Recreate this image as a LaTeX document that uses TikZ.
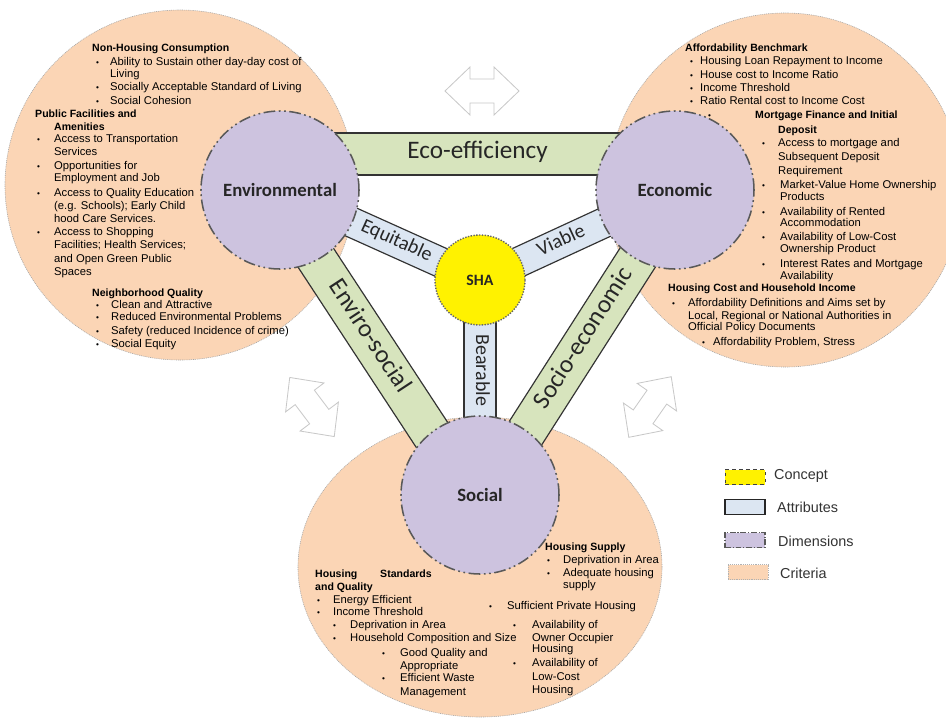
\documentclass[tikz,border=0pt]{standalone}
\usepackage{fontspec}
\setmainfont{Liberation Sans}
\newfontfamily\calibrifont{Carlito}
\usetikzlibrary{calc,shapes.geometric}
\definecolor{peach}{HTML}{FBD5B5}
\definecolor{lav}{HTML}{CDC3DF}
\definecolor{lgreen}{HTML}{D7E4BD}
\definecolor{lblue}{HTML}{DCE6F2}
\definecolor{dimborder}{HTML}{595959}
\definecolor{arrowgray}{HTML}{C8C8C8}
\newcounter{tl}
\newcommand\critfont{\fontsize{9.6}{11}\selectfont}
\newcommand\critheadfont{\fontsize{9}{11}\selectfont\bfseries}
\newcommand\Tx[3]{\stepcounter{tl}\node[crit] (tx\arabic{tl}) at (#1,{#2+3.5}) {#3};}
\newcommand\Th[3]{\stepcounter{tl}\node[crith] (tx\arabic{tl}) at (#1,{#2+3.5}) {#3};}
\newcommand\Tb[4]{\stepcounter{tl}\node[critbul] (tx\arabic{tl}) at (#1,{#3+3.5}) {\textbullet};\Tx{#2}{#3}{#4}}
\newcommand\band[7]{%
  \draw[#4] ($(#1)!#3!90:(#2)$) -- ($(#2)!#3!-90:(#1)$) -- ($(#2)!#3!90:(#1)$) -- ($(#1)!#3!-90:(#2)$) -- cycle;
  \path (#1) -- (#2) node[#6] (#5) {#7};
}
\newcommand\hollowarrow[3]{%
  \coordinate (#1) at #2;
  \draw[hollow, shift={#2}, rotate=#3] (-37,0) -- (-12,-24) -- (-12,-12) -- (12,-12) -- (12,-24) -- (37,0) -- (12,24) -- (12,12) -- (-12,12) -- (-12,24) -- cycle;
}
\begin{document}
\begin{tikzpicture}[x=0.03cm,y=-0.03cm,
  crit/.style={anchor=base west, inner sep=0pt, text height=6.6pt, text depth=1.6pt, font=\critfont},
  crith/.style={anchor=base west, inner sep=0pt, text height=6.6pt, text depth=1.6pt, font=\critheadfont},
  critbul/.style={anchor=base west, inner sep=0pt, text height=4pt, text depth=0pt, font=\fontsize{7}{7}\selectfont},
  criteria/.style={fill=peach, draw=black!35, line width=0.5pt, dash pattern=on 0.8pt off 0.8pt, inner sep=0pt},
  dimdash/.style={dash pattern=on 10pt off 3pt on 1.5pt off 3pt on 1.5pt off 3pt},
  dimension/.style={circle, fill=lav, draw=dimborder, line width=1.3pt, dimdash, minimum size=4.74cm, inner sep=0pt,
     font=\calibrifont\bfseries\fontsize{16}{16}\selectfont, text=black!85},
  concept/.style={circle, fill=yellow, draw=black!60, line width=1.2pt, dash pattern=on 1.2pt off 1.2pt, minimum size=2.7cm, inner sep=0pt,
     font=\calibrifont\bfseries\fontsize{13.5}{13.5}\selectfont, text=black!85},
  ecoband/.style={fill=lgreen, draw=black!80, line width=1pt},
  attrband/.style={fill=lblue, draw=black!80, line width=1pt},
  bandfont/.style={font=\calibrifont\fontsize{21.5}{21.5}\selectfont, text=black!85, inner sep=0pt, text height=11pt, text depth=3pt},
  attrfont/.style={font=\calibrifont\fontsize{17}{17}\selectfont, text=black!85, inner sep=0pt, text height=9pt, text depth=2.5pt},
  hollow/.style={fill=white, draw=arrowgray, line width=0.7pt, line join=miter},
  legbox/.style={rectangle, minimum width=1.2cm, minimum height=0.45cm, inner sep=0pt},
  legtext/.style={anchor=west, inner sep=0pt, font=\fontsize{12.3}{14}\selectfont, text=black!80}
]
\clip (0,0) rectangle (946,721);
\fill[white] (0,0) rectangle (946,721);

% criteria
\node[criteria, circle, minimum size=10.5cm] (critEnv) at (180,185) {};
\node[criteria, circle, minimum size=10.62cm] (critEcon) at (785,190) {};
\node[criteria, ellipse, minimum width=10.92cm, minimum height=9cm] (critSoc) at (480,567) {};

% hollow double arrows
\hollowarrow{arrTop}{(482,91)}{0}
\hollowarrow{arrLeft}{(312,407)}{-53}
\hollowarrow{arrRight}{(650,407)}{55}

% centres
\coordinate (cEnv) at (280,190);
\coordinate (cEcon) at (675,190);
\coordinate (cSoc) at (480,495);
\coordinate (cSha) at (480,280);
\coordinate (ee1) at (280,154); \coordinate (ee2) at (675,154);
\coordinate (es1) at (274,194); \coordinate (es2) at (474,499);
\coordinate (se1) at (484,498); \coordinate (se2) at (679,193);

% bands
\band{ee1}{ee2}{0.63cm}{ecoband}{lEco}{midway, bandfont}{Eco-efficiency}
\band{es1}{es2}{0.6cm}{ecoband}{lEnvSoc}{pos=0.47, sloped, bandfont}{Enviro-social}
\band{se1}{se2}{0.6cm}{ecoband}{lSocEco}{pos=0.52, sloped, bandfont}{Socio-economic}
\band{cEnv}{cSha}{0.45cm}{attrband}{lEq}{pos=0.58, sloped, attrfont}{Equitable}
\band{cSha}{cEcon}{0.45cm}{attrband}{lVi}{pos=0.42, sloped, attrfont}{Viable}
\band{cSha}{cSoc}{0.48cm}{attrband}{lBe}{pos=0.42, rotate=-90, attrfont}{Bearable}

% dimensions
\node[dimension] (env) at (cEnv) {Environmental};
\node[dimension] (econ) at (cEcon) {Economic};
\node[dimension] (soc) at (cSoc) {Social};
\node[concept] (sha) at (cSha) {SHA};

% left criteria text
\Th{92}{48}{Non-Housing Consumption}
\Tb{96}{110}{62}{Ability to Sustain other day-day cost of}
\Tx{110}{74}{Living}
\Tb{96}{110}{87}{Socially Acceptable Standard of Living}
\Tb{96}{110}{101}{Social Cohesion}
\Th{35}{114}{Public Facilities and}
\Th{54}{127}{Amenities}
\Tb{37}{54}{139}{Access to Transportation}
\Tx{54}{152}{Services}
\Tb{37}{54}{166}{Opportunities for}
\Tx{54}{178}{Employment and Job}
\Tb{37}{54}{193}{Access to Quality Education}
\Tx{54}{206}{(e.g. Schools); Early Child}
\Tx{54}{219}{hood Care Services.}
\Tb{37}{54}{232}{Access to Shopping}
\Tx{54}{245}{Facilities; Health Services;}
\Tx{54}{259}{and Open Green Public}
\Tx{54}{272}{Spaces}
\Th{92}{293}{Neighborhood Quality}
\Tb{96}{111}{305}{Clean and Attractive}
\Tb{96}{111}{317}{Reduced Environmental Problems}
\Tb{96}{111}{331}{Safety (reduced Incidence of crime)}
\Tb{96}{111}{344}{Social Equity}

% right criteria text
\Th{685}{48}{Affordability Benchmark}
\Tb{690}{700}{61}{Housing Loan Repayment to Income}
\Tb{690}{700}{75}{House cost to Income Ratio}
\Tb{690}{700}{88}{Income Threshold}
\Tb{690}{700}{101}{Ratio Rental cost to Income Cost}
\stepcounter{tl}\node[critbul] (tx\arabic{tl}) at (708,118.5) {\textbullet};
\Th{755}{115}{Mortgage Finance and Initial}
\Th{778}{130}{Deposit}
\Tb{762}{778}{143}{Access to mortgage and}
\Tx{778}{157}{Subsequent Deposit}
\Tx{778}{171}{Requirement}
\Tb{762}{780}{185}{Market-Value Home Ownership}
\Tx{780}{197}{Products}
\Tb{762}{780}{212}{Availability of Rented}
\Tx{780}{223}{Accommodation}
\Tb{762}{780}{237}{Availability of Low-Cost}
\Tx{780}{249}{Ownership Product}
\Tb{762}{780}{264}{Interest Rates and Mortgage}
\Tx{780}{276}{Availability}
\Th{668}{288}{Housing Cost and Household Income}
\Tb{672}{688}{303}{Affordability Definitions and Aims set by}
\Tx{688}{316}{Local, Regional or National Authorities in}
\Tx{688}{327}{Official Policy Documents}
\Tb{702}{713}{342}{Affordability Problem, Stress}

% bottom criteria text
\Th{545}{547}{Housing Supply}
\Tb{547}{563}{560}{Deprivation in Area}
\Tb{547}{563}{573}{Adequate housing}
\Tx{563}{585}{supply}
\Th{315}{574}{Housing}
\Th{380}{574}{Standards}
\Th{315}{587}{and Quality}
\Tb{317}{333}{600}{Energy Efficient}
\Tb{317}{333}{612}{Income Threshold}
\Tb{333}{350}{625}{Deprivation in Area}
\Tb{333}{350}{638}{Household Composition and Size}
\Tb{382}{400}{653}{Good Quality and}
\Tx{400}{666}{Appropriate}
\Tb{382}{400}{678}{Efficient Waste}
\Tx{400}{692}{Management}
\Tb{489}{507}{606}{Sufficient Private Housing}
\Tb{513}{532}{625}{Availability of}
\Tx{532}{638}{Owner Occupier}
\Tx{532}{649}{Housing}
\Tb{513}{532}{663}{Availability of}
\Tx{532}{677}{Low-Cost}
\Tx{532}{690}{Housing}

% legend
\node[legbox, fill=yellow, draw=black!75, line width=0.8pt, dashed] (lgC) at (745,477) {};
\node[legtext] (lgCt) at (774,476) {Concept};
\node[legbox, fill=lblue, draw=black!85, line width=1pt] (lgA) at (745,507) {};
\node[legtext] (lgAt) at (777,507) {Attributes};
\node[legbox, fill=lav, draw=dimborder, line width=1.2pt, dash pattern=on 5pt off 1.5pt on 1pt off 1.5pt] (lgD) at (745,540) {};
\node[legtext] (lgDt) at (778,541) {Dimensions};
\node[legbox, fill=peach, draw=black!30, line width=0.5pt, dash pattern=on 0.8pt off 0.8pt] (lgR) at (748,572) {};
\node[legtext] (lgRt) at (780,573) {Criteria};
\end{tikzpicture}
\end{document}
